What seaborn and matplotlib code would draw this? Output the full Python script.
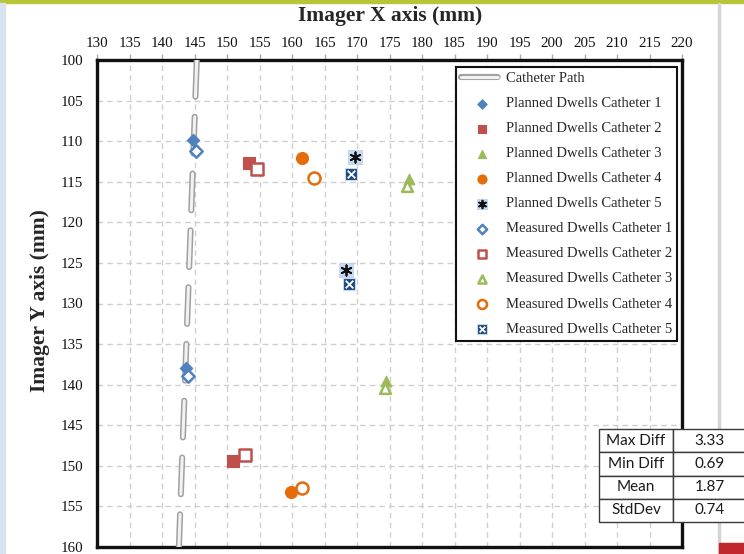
import matplotlib
matplotlib.use("Agg")
import matplotlib.pyplot as plt
import matplotlib.patheffects as pe
from matplotlib.patches import Rectangle
import seaborn as sns

# ---------------- data ----------------
path_x = [145.35, 142.6]
path_y = [100.0, 160.0]

planned_x = {
    1: [144.8, 143.7],
    2: [153.4, 150.9],
    3: [178.0, 174.5],
    4: [161.5, 159.8],
    5: [169.7, 168.3],
}
planned_y = {
    1: [109.8, 137.9],
    2: [112.7, 149.4],
    3: [114.6, 139.6],
    4: [112.1, 153.2],
    5: [112.0, 125.9],
}
measured_x = {
    1: [145.2, 144.0],
    2: [154.6, 152.8],
    3: [177.7, 174.3],
    4: [163.4, 161.5],
    5: [169.1, 168.8],
}
measured_y = {
    1: [111.2, 138.9],
    2: [113.4, 148.7],
    3: [115.5, 140.4],
    4: [114.5, 152.7],
    5: [114.0, 127.6],
}
stat_names = ["Max Diff", "Min Diff", "Mean", "StdDev"]
stat_values = ["3.33", "0.69", "1.87", "0.74"]

x_ticks = list(range(130, 221, 5))
y_ticks = list(range(100, 161, 5))

colors = {1: "#4f81bd", 2: "#c0504d", 3: "#9bbb59", 4: "#e46c0a", 5: "#1f497d"}

# ---------------- style ----------------
sns.set_style("white")
plt.rcParams["font.family"] = ["Liberation Serif", "DejaVu Serif"]

W, H = 744, 554
fig = plt.figure(figsize=(W / 100, H / 100), dpi=100)
fig.patch.set_facecolor("white")

# background decorations of the spreadsheet screenshot
deco = [
    ((0, 1 - 2.5 / H), 1, 2.5 / H, "#b7c539"),
    ((0, 0), 5 / W, 1 - 2.5 / H, "#d8e5f0"),
    ((718 / W, 0), 1.5 / W, 1 - 2.5 / H, "#d4d4d4"),
    ((719 / W, 0), 25 / W, 11 / H, "#c0262d"),
]
for xy, w, h, col in deco:
    fig.patches.append(Rectangle(xy, w, h, transform=fig.transFigure,
                                 color=col, zorder=-5))

L, R, T, B = 97, 682, 60, 547
ax = fig.add_axes([L / W, 1 - B / H, (R - L) / W, (B - T) / H])
ax.set_facecolor("white")

# catheter path (tube look)
sns.lineplot(x=path_x, y=path_y, ax=ax, estimator=None, sort=False,
             color="#f2f2f2", lw=2.2, linestyle=(0, (12.0, 6.6)),
             dash_capstyle="round",
             path_effects=[pe.Stroke(linewidth=4.4, foreground="#a0a0a0"), pe.Normal()],
             label="Catheter Path", zorder=3, legend=False)

handles = [ax.get_lines()[-1]]
labels = ["Catheter Path"]

planned_markers = {1: "D", 2: "s", 3: "^", 4: "o"}
planned_sizes = {1: 40, 2: 70, 3: 60, 4: 75}

# planned dwells
for c in range(1, 6):
    if c < 5:
        h = ax.scatter(planned_x[c], planned_y[c], marker=planned_markers[c],
                       s=planned_sizes[c], c=colors[c], edgecolors=colors[c],
                       linewidths=0.8, zorder=5)
        handles.append(h)
    else:
        h1 = ax.scatter(planned_x[c], planned_y[c], marker="s", s=90,
                        c="#c6d9f1", edgecolors="#b8cde8", linewidths=0.5, zorder=5)
        h2 = ax.scatter(planned_x[c], planned_y[c], marker=(6, 2, 0), s=55,
                        c="#111111", linewidths=1.3, zorder=6)
        handles.append((h1, h2))
    labels.append(f"Planned Dwells Catheter {c}")

# measured dwells
for c in range(1, 6):
    if c < 5:
        h = ax.scatter(measured_x[c], measured_y[c], marker=planned_markers[c],
                       s=planned_sizes[c], c="white", edgecolors=colors[c],
                       linewidths=1.8, zorder=5)
        handles.append(h)
    else:
        h1 = ax.scatter(measured_x[c], measured_y[c], marker="s", s=85,
                        c=colors[5], edgecolors="#c6d9f1", linewidths=0.8, zorder=5)
        h2 = ax.scatter(measured_x[c], measured_y[c], marker="x", s=30,
                        c="white", linewidths=1.3, zorder=6)
        handles.append((h1, h2))
    labels.append(f"Measured Dwells Catheter {c}")

# axes
ax.set_xlim(130, 220)
ax.set_ylim(160, 100)
ax.set_xticks(x_ticks)
ax.set_yticks(y_ticks)
ax.xaxis.tick_top()
ax.tick_params(axis="both", labelsize=10.8, length=4, width=1, color="#aaaaaa",
               direction="out", pad=6, labelcolor="#111111")
ax.tick_params(axis="x", pad=3.5)
ax.grid(True, color="#cfcfcf", lw=1.0, linestyle=(0, (4, 3)))
ax.set_axisbelow(True)
for s in ax.spines.values():
    s.set_visible(True)
    s.set_linewidth(2.4)
    s.set_color("#111111")
ax.set_xlabel("")
ax.set_ylabel("")

leg = ax.legend(handles, labels, loc="upper right",
                bbox_to_anchor=((677 - L) / (R - L), 1 - (67 - T) / (B - T)),
                borderaxespad=0, fontsize=10.5, frameon=True, fancybox=False,
                edgecolor="#111111", framealpha=1, handlelength=2.8,
                handletextpad=0.25, labelspacing=0.81, borderpad=0.35,
                markerscale=0.75)
leg.get_frame().set_linewidth(1.5)
for t in leg.get_texts():
    t.set_color("#262626")

# titles
fig.text(390 / W, 1 - 16 / H, "Imager X axis (mm)", ha="center", va="center",
         fontsize=15.5, fontweight="bold")
fig.text(40 / W, 1 - 301 / H, "Imager Y axis (mm)", ha="center", va="center",
         rotation=90, fontsize=15.5, fontweight="bold")

# stats table
tx0, tx1, ty0, ty1 = 599, 746, 429, 522
tax = fig.add_axes([tx0 / W, 1 - ty1 / H, (tx1 - tx0) / W, (ty1 - ty0) / H])
tax.axis("off")
tax.set_zorder(10)
cell_text = [[n, v] for n, v in zip(stat_names, stat_values)]
tbl = tax.table(cellText=cell_text, bbox=[0, 0, 1, 1], cellLoc="center",
                colWidths=[74 / (tx1 - tx0), 73 / (tx1 - tx0)])
tbl.auto_set_font_size(False)
for (r, c), cell in tbl.get_celld().items():
    cell.set_edgecolor("#3a3a3a")
    cell.set_linewidth(1.0)
    cell.set_facecolor("white")
    cell.get_text().set_fontsize(11)
    cell.get_text().set_fontfamily(["Lato", "DejaVu Sans"])
    cell.get_text().set_color("#1a1a1a")

fig.savefig("out.png", dpi=100)
